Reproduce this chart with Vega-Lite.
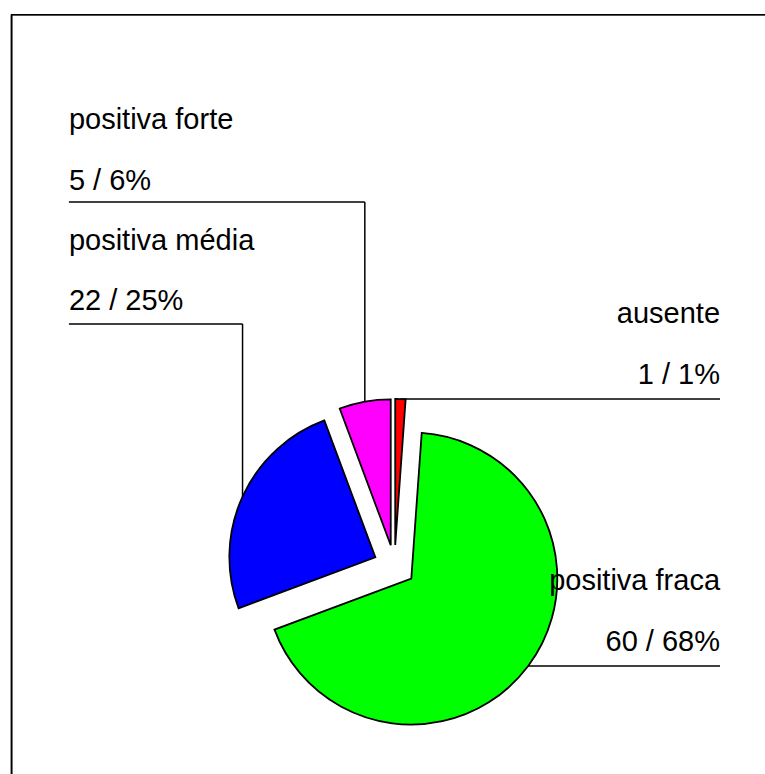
{
  "$schema": "https://vega.github.io/schema/vega-lite/v6.json",
  "width": 765,
  "height": 774,
  "autosize": {"type": "none"},
  "padding": 0,
  "background": "white",
  "config": {"view": {"stroke": null}, "text": {"font": "Liberation Sans", "fontSize": 29, "color": "black"}},
  "data": {"values": [
    {"category": "ausente", "value": 1, "order": 1},
    {"category": "positiva fraca", "value": 60, "order": 2},
    {"category": "positiva média", "value": 22, "order": 3},
    {"category": "positiva forte", "value": 5, "order": 4}
  ]},
  "transform": [
    {"joinaggregate": [{"op": "sum", "field": "value", "as": "total"}]},
    {"window": [{"op": "sum", "field": "value", "as": "cum"}], "sort": [{"field": "order"}], "frame": [null, 0]},
    {"calculate": "(datum.cum - datum.value) / datum.total", "as": "f0"},
    {"calculate": "datum.cum / datum.total", "as": "f1"},
    {"calculate": "PI * (datum.f0 + datum.f1)", "as": "mid"},
    {"calculate": "0.144 * sin(datum.mid)", "as": "ex"},
    {"calculate": "0.144 * cos(datum.mid)", "as": "ey"},
    {"calculate": "1.144 * sin(datum.mid)", "as": "ax"},
    {"calculate": "1.144 * cos(datum.mid)", "as": "ay"},
    {"calculate": "datum.value + ' / ' + round(datum.value / datum.total * 100) + '%'", "as": "lab"}
  ],
  "layer": [
    {
      "mark": {"type": "rule", "color": "black", "strokeWidth": 1.3},
      "encoding": {
        "x": {"datum": -2.623, "type": "quantitative", "scale": {"domain": [-2.702, 2.538], "nice": false, "zero": false}, "axis": null},
        "x2": {"datum": 2.538},
        "y": {"datum": 3.777, "type": "quantitative", "scale": {"domain": [-1.425, 3.877], "nice": false, "zero": false}, "axis": null}
      }
    },
    {
      "mark": {"type": "rule", "color": "black", "strokeWidth": 1.3},
      "encoding": {
        "x": {"datum": -2.623, "type": "quantitative", "scale": {"domain": [-2.702, 2.538], "nice": false, "zero": false}, "axis": null},
        "y": {"datum": 3.777, "type": "quantitative", "scale": {"domain": [-1.425, 3.877], "nice": false, "zero": false}, "axis": null},
        "y2": {"datum": -1.425}
      }
    },
    {
      "mark": {"type": "arc", "radius": 146, "stroke": "black", "strokeWidth": 1.8},
      "encoding": {
        "x": {"field": "ex", "type": "quantitative", "scale": {"domain": [-2.702, 2.538], "nice": false, "zero": false}, "axis": null},
        "y": {"field": "ey", "type": "quantitative", "scale": {"domain": [-1.425, 3.877], "nice": false, "zero": false}, "axis": null},
        "theta": {"field": "f0", "type": "quantitative", "stack": null, "scale": {"domain": [0, 1], "nice": false, "zero": true}},
        "theta2": {"field": "f1"},
        "color": {"field": "category", "type": "nominal", "legend": null,
          "scale": {"domain": ["ausente", "positiva fraca", "positiva média", "positiva forte"], "range": ["#FF0000", "#00FF00", "#0000FF", "#FF00FF"]}}
      }
    },
    {
      "transform": [{"filter": "datum.ax > 0"}],
      "layer": [
        {
          "mark": {"type": "rule", "color": "black", "strokeWidth": 1.5},
          "encoding": {
            "x": {"field": "ax", "type": "quantitative", "scale": {"domain": [-2.702, 2.538], "nice": false, "zero": false}, "axis": null},
            "x2": {"datum": 2.23},
            "y": {"field": "ay", "type": "quantitative", "scale": {"domain": [-1.425, 3.877], "nice": false, "zero": false}, "axis": null}
          }
        },
        {
          "mark": {"type": "text", "align": "right", "baseline": "alphabetic", "dy": -76},
          "encoding": {
            "x": {"datum": 2.23, "type": "quantitative", "scale": {"domain": [-2.702, 2.538], "nice": false, "zero": false}, "axis": null},
            "y": {"field": "ay", "type": "quantitative", "scale": {"domain": [-1.425, 3.877], "nice": false, "zero": false}, "axis": null},
            "text": {"field": "category", "type": "nominal"}
          }
        },
        {
          "mark": {"type": "text", "align": "right", "baseline": "alphabetic", "dy": -15},
          "encoding": {
            "x": {"datum": 2.23, "type": "quantitative", "scale": {"domain": [-2.702, 2.538], "nice": false, "zero": false}, "axis": null},
            "y": {"field": "ay", "type": "quantitative", "scale": {"domain": [-1.425, 3.877], "nice": false, "zero": false}, "axis": null},
            "text": {"field": "lab", "type": "nominal"}
          }
        }
      ]
    },
    {
      "transform": [{"filter": "datum.category == 'positiva forte'"}],
      "layer": [
        {
          "mark": {"type": "rule", "color": "black", "strokeWidth": 1.5},
          "encoding": {
            "x": {"field": "ax", "type": "quantitative", "scale": {"domain": [-2.702, 2.538], "nice": false, "zero": false}, "axis": null},
            "y": {"field": "ay", "type": "quantitative", "scale": {"domain": [-1.425, 3.877], "nice": false, "zero": false}, "axis": null},
            "y2": {"datum": 2.493}
          }
        },
        {
          "mark": {"type": "rule", "color": "black", "strokeWidth": 1.5},
          "encoding": {
            "x": {"field": "ax", "type": "quantitative", "scale": {"domain": [-2.702, 2.538], "nice": false, "zero": false}, "axis": null},
            "x2": {"datum": -2.23},
            "y": {"datum": 2.493, "type": "quantitative", "scale": {"domain": [-1.425, 3.877], "nice": false, "zero": false}, "axis": null}
          }
        },
        {
          "mark": {"type": "text", "align": "left", "baseline": "alphabetic", "dy": -73},
          "encoding": {
            "x": {"datum": -2.23, "type": "quantitative", "scale": {"domain": [-2.702, 2.538], "nice": false, "zero": false}, "axis": null},
            "y": {"datum": 2.493, "type": "quantitative", "scale": {"domain": [-1.425, 3.877], "nice": false, "zero": false}, "axis": null},
            "text": {"field": "category", "type": "nominal"}
          }
        },
        {
          "mark": {"type": "text", "align": "left", "baseline": "alphabetic", "dy": -12},
          "encoding": {
            "x": {"datum": -2.23, "type": "quantitative", "scale": {"domain": [-2.702, 2.538], "nice": false, "zero": false}, "axis": null},
            "y": {"datum": 2.493, "type": "quantitative", "scale": {"domain": [-1.425, 3.877], "nice": false, "zero": false}, "axis": null},
            "text": {"field": "lab", "type": "nominal"}
          }
        }
      ]
    },
    {
      "transform": [{"filter": "datum.category == 'positiva média'"}],
      "layer": [
        {
          "mark": {"type": "rule", "color": "black", "strokeWidth": 1.5},
          "encoding": {
            "x": {"field": "ax", "type": "quantitative", "scale": {"domain": [-2.702, 2.538], "nice": false, "zero": false}, "axis": null},
            "y": {"field": "ay", "type": "quantitative", "scale": {"domain": [-1.425, 3.877], "nice": false, "zero": false}, "axis": null},
            "y2": {"datum": 1.658}
          }
        },
        {
          "mark": {"type": "rule", "color": "black", "strokeWidth": 1.5},
          "encoding": {
            "x": {"field": "ax", "type": "quantitative", "scale": {"domain": [-2.702, 2.538], "nice": false, "zero": false}, "axis": null},
            "x2": {"datum": -2.23},
            "y": {"datum": 1.658, "type": "quantitative", "scale": {"domain": [-1.425, 3.877], "nice": false, "zero": false}, "axis": null}
          }
        },
        {
          "mark": {"type": "text", "align": "left", "baseline": "alphabetic", "dy": -74},
          "encoding": {
            "x": {"datum": -2.23, "type": "quantitative", "scale": {"domain": [-2.702, 2.538], "nice": false, "zero": false}, "axis": null},
            "y": {"datum": 1.658, "type": "quantitative", "scale": {"domain": [-1.425, 3.877], "nice": false, "zero": false}, "axis": null},
            "text": {"field": "category", "type": "nominal"}
          }
        },
        {
          "mark": {"type": "text", "align": "left", "baseline": "alphabetic", "dy": -14},
          "encoding": {
            "x": {"datum": -2.23, "type": "quantitative", "scale": {"domain": [-2.702, 2.538], "nice": false, "zero": false}, "axis": null},
            "y": {"datum": 1.658, "type": "quantitative", "scale": {"domain": [-1.425, 3.877], "nice": false, "zero": false}, "axis": null},
            "text": {"field": "lab", "type": "nominal"}
          }
        }
      ]
    }
  ]
}
